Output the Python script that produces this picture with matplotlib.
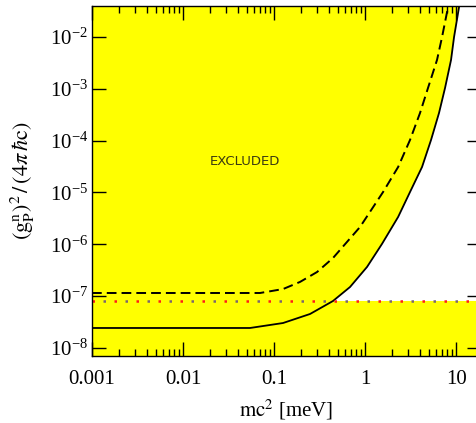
import numpy as np
import matplotlib
matplotlib.use('Agg')
import matplotlib.pyplot as plt
from matplotlib.ticker import (LogLocator, FixedLocator, FixedFormatter,
                               NullLocator, NullFormatter)

plt.rcParams['font.family'] = 'Liberation Serif'
plt.rcParams['mathtext.fontset'] = 'stix'

# Limit curves, read in (mc^2 [meV], coupling) pairs
mass_solid = [0.001, 0.03, 0.0545, 0.1256, 0.249, 0.445, 0.684, 1.052, 1.537,
              2.31, 3.12, 4.23, 5.31, 6.50, 7.57, 8.81, 9.51, 10.79]
g2_solid = [2.43e-8, 2.43e-8, 2.43e-8, 3.03e-8, 4.53e-8, 8.07e-8, 1.50e-7,
            3.66e-7, 1.02e-6, 3.37e-6, 1.02e-5, 3.10e-5, 1.03e-4, 3.42e-4,
            1.04e-3, 3.61e-3, 1.0e-2, 3.79e-2]

mass_dashed = [0.001, 0.04, 0.0702, 0.1256, 0.193, 0.297, 0.445, 0.881,
               1.578, 2.31, 3.12, 4.02, 4.92, 6.18, 7.02, 8.17]
g2_dashed = [1.15e-7, 1.15e-7, 1.15e-7, 1.37e-7, 1.88e-7, 2.92e-7, 5.45e-7,
             2.16e-6, 1.02e-5, 3.10e-5, 1.03e-4, 3.42e-4, 1.04e-3, 3.61e-3,
             1.0e-2, 3.79e-2]

g2_dotted = 8.07e-8

xticks = [0.001, 0.01, 0.1, 1, 10]
xticklabels = ['0.001', '0.01', '0.1', '1', '10']

xmin, xmax = 1e-3, 18.8
ymin, ymax = 7.0e-9, 3.96e-2

fig = plt.figure(figsize=(4.76, 4.23), dpi=100)
ax = fig.add_axes((92 / 476, 67 / 423, 389 / 476, 350 / 423))
ax.set_xscale('log')
ax.set_yscale('log')
ax.set_xlim(xmin, xmax)
ax.set_ylim(ymin, ymax)
ax.set_facecolor('#ffff00')

# allowed window: above the dotted line, below the solid curve
ms = np.array(mass_solid)
gs = np.array(g2_solid)
keep = ms >= 0.445
poly_x = np.concatenate([ms[keep], [ms[-1], xmax * 2, xmax * 2]])
poly_y = np.concatenate([gs[keep], [ymax * 2, ymax * 2, g2_dotted]])
ax.fill(poly_x, poly_y, color='white', lw=0, zorder=1)

ax.plot(mass_solid, g2_solid, color='black', lw=1.3, zorder=3)
ax.plot(mass_dashed, g2_dashed, color='black', lw=1.4,
        linestyle=(0, (5, 2.6)), zorder=3)
ax.plot([xmin, xmax], [g2_dotted, g2_dotted], color='#ff1a1a', lw=1.8,
        linestyle=(0, (1, 7.8)), solid_capstyle='butt', zorder=4)
ax.plot([xmin, xmax], [g2_dotted, g2_dotted], color='#7a6470', lw=1.8,
        linestyle=(4.4, (1, 7.8)), solid_capstyle='butt', zorder=4)

ax.text(245, 423 - 161, 'EXCLUDED', transform=None, fontsize=9.5,
        family='DejaVu Sans', color='#3a3a10', ha='center', va='center')

ax.xaxis.set_major_locator(FixedLocator(xticks))
ax.xaxis.set_major_formatter(FixedFormatter(xticklabels))
ax.xaxis.set_minor_locator(LogLocator(base=10, subs=np.arange(2, 10), numticks=20))
ax.xaxis.set_minor_formatter(NullFormatter())
ax.yaxis.set_major_locator(LogLocator(base=10, numticks=20))
ax.yaxis.set_minor_locator(NullLocator())
ax.yaxis.set_minor_formatter(NullFormatter())

ax.tick_params(which='both', direction='in', top=True, right=True,
               labelsize=15, width=1.0, color='black')
ax.tick_params(which='major', length=10)
ax.tick_params(which='minor', length=5)
ax.tick_params(axis='x', which='major', pad=10)
ax.tick_params(axis='y', which='major', pad=3)
for s in ax.spines.values():
    s.set_linewidth(1.0)
    s.set_zorder(5)

ax.set_xlabel(r'$\mathrm{mc}^2$ [meV]', fontsize=15, labelpad=6)
ax.set_ylabel(r'$(\mathrm{g}_\mathrm{P}^\mathrm{n})^2\,/\,(4\pi\,\hbar\mathrm{c})$',
              fontsize=16)
ax.yaxis.set_label_coords(-0.141, 0.5)

fig.savefig('out.png', dpi=100)
